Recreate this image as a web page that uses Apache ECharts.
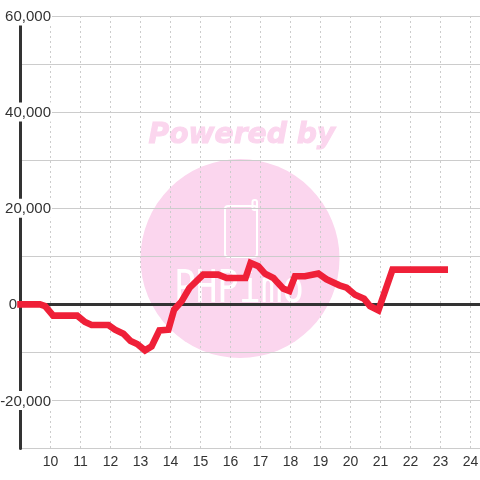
<!DOCTYPE html>
<html><head><meta charset="utf-8">
<style>html,body{margin:0;padding:0;background:#fff}#c{width:480px;height:480px}</style>
<script src="https://cdn.jsdelivr.net/npm/echarts@6/dist/echarts.min.js"></script>
</head><body><div id="c"></div>
<script>
const hours=[8.89,9.65,9.82,10.09,10.89,11.15,11.37,11.93,12.15,12.43,12.67,12.89,13.15,13.37,13.63,13.93,14.12,14.37,14.63,15.09,15.59,15.87,16.5,16.67,16.93,17.15,17.43,17.76,17.96,18.15,18.48,18.93,19.2,19.63,19.87,20.15,20.45,20.65,20.93,21.4,23.25];
const values=[0,0,-350,-2360,-2360,-3680,-4300,-4300,-5280,-6110,-7640,-8260,-9580,-8750,-5420,-5280,-1110,620,3400,6180,6180,5490,5490,8610,7920,6390,5490,3260,2780,5830,5830,6390,5210,3960,3470,2010,1180,-350,-1250,7220,7220];
const labeledTicks=[-20000,0,20000,40000,60000];
const ink='#333333',rule='#cccccc',pink='#fbd6ee',red='#ef2038';
const chart=echarts.init(document.getElementById('c'),null,{renderer:'canvas'});
chart.setOption({
 animation:false,
 grid:{left:20.5,right:-0.4,top:16,bottom:31.5,containLabel:false,outerBoundsMode:'none'},
 graphic:[
  {type:'circle',z:-1,shape:{cx:240,cy:258.5,r:99.5},style:{fill:pink}},
  {type:'text',z:-1,left:148,top:121.5,style:{text:'Powered by',fill:pink,stroke:pink,lineWidth:1,font:'italic bold 28.2px "DejaVu Sans"'}},
  {type:'rect',z:-1,shape:{x:225,y:206,width:32,height:51,r:3},style:{fill:'none',stroke:'#fff',lineWidth:2}},
  {type:'rect',z:-1,shape:{x:252.5,y:200,width:4.5,height:10,r:2},style:{fill:'none',stroke:'#fff',lineWidth:2}},
  {type:'text',z:-1,x:174,y:268,scaleY:1.25,style:{text:'PHPimo',fill:'#fff',font:'36px "DejaVu Sans Mono"'}}
 ],
 xAxis:{type:'value',min:9,max:24.33,interval:1,
  axisLine:{show:false},axisTick:{show:false},
  axisLabel:{color:ink,fontFamily:'Liberation Sans',fontSize:14,margin:7,showMinLabel:false,showMaxLabel:false,formatter:v=>String(v)},
  splitLine:{show:true,lineStyle:{color:rule,type:[2,3],width:1}}},
 yAxis:{type:'value',min:-30000,max:60000,interval:10000,
  axisLine:{show:true,onZero:false,lineStyle:{color:ink,width:3}},axisTick:{show:false},
  axisLabel:{margin:-31.5,align:'right',color:ink,fontFamily:'Liberation Sans',fontSize:15,
   formatter:v=>{if(!labeledTicks.includes(v))return '';if(v===0)return '{z|0}';return '{n|'+v.toLocaleString('en-US')+'}';},
   rich:{n:{backgroundColor:'#fff',padding:[3,1,1,3],fontSize:15,color:ink,fontFamily:'Liberation Sans'},
         z:{padding:[3,35,1,0],fontSize:15,color:ink,fontFamily:'Liberation Sans'}}},
  splitLine:{show:true,lineStyle:{color:rule,width:1}}},
 series:[{type:'line',data:hours.map((h,i)=>[h,values[i]]),showSymbol:false,symbol:'none',clip:false,z:5,
  lineStyle:{color:red,width:6.6,join:'miter',cap:'butt'},
  markLine:{silent:true,symbol:'none',z:3,label:{show:false},lineStyle:{color:ink,width:3,type:'solid'},data:[{yAxis:0}]}}]
});
</script></body></html>
